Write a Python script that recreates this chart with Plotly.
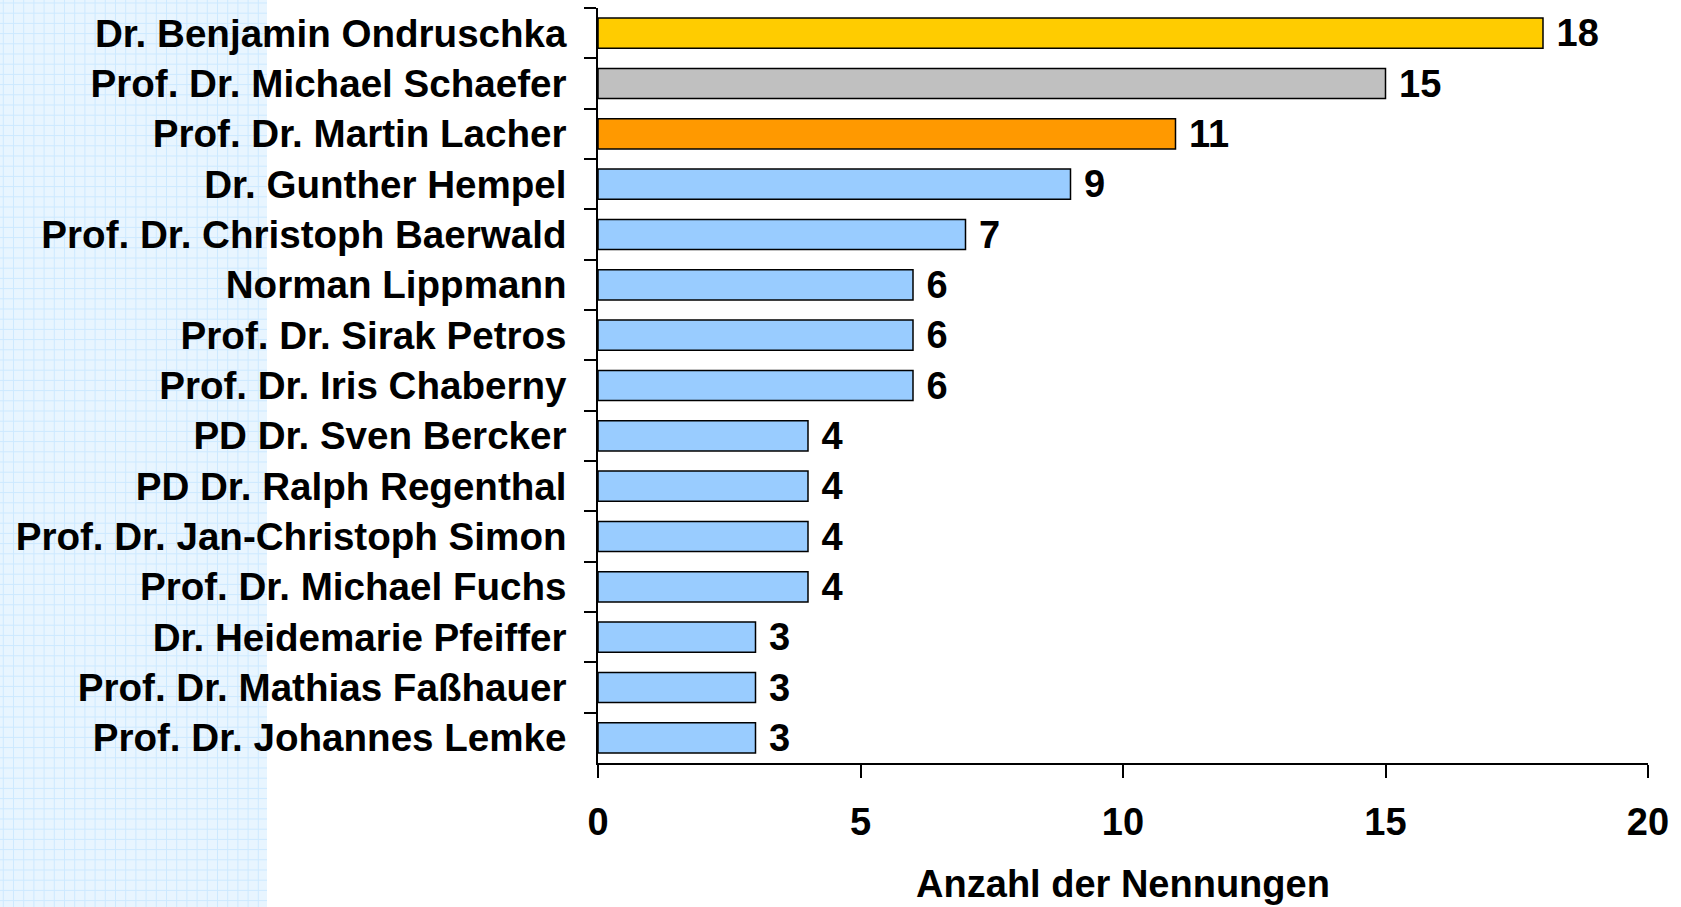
import plotly.graph_objects as go

names = [
    "Dr. Benjamin Ondruschka",
    "Prof. Dr. Michael Schaefer",
    "Prof. Dr. Martin Lacher",
    "Dr. Gunther Hempel",
    "Prof. Dr. Christoph Baerwald",
    "Norman Lippmann",
    "Prof. Dr. Sirak Petros",
    "Prof. Dr. Iris Chaberny",
    "PD Dr. Sven Bercker",
    "PD Dr. Ralph Regenthal",
    "Prof. Dr. Jan-Christoph Simon",
    "Prof. Dr. Michael Fuchs",
    "Dr. Heidemarie Pfeiffer",
    "Prof. Dr. Mathias Faßhauer",
    "Prof. Dr. Johannes Lemke",
]
counts = [18, 15, 11, 9, 7, 6, 6, 6, 4, 4, 4, 4, 3, 3, 3]
colors = ["#FFCC00", "#C0C0C0", "#FF9900"] + ["#99CCFF"] * 12
x_ticks = [0, 5, 10, 15, 20]

W, H = 1681, 907
L, R, T, B = 598, 33, 8, 144
pw = W - L - R
ph = H - T - B
FONT = "Liberation Sans, Arial, sans-serif"
FS = 38

fig = go.Figure(go.Bar(
    x=counts,
    y=names,
    orientation="h",
    width=0.6,
    marker=dict(color=colors, line=dict(color="black", width=1.5)),
    texttemplate="\u00a0<b>%{x}</b>",
    textposition="outside",
    constraintext="none",
    textfont=dict(family=FONT, size=FS, color="black"),
    cliponaxis=False,
))

# decorative light-blue grid panel on the left
def px2paper_x(px):
    return (px - L) / pw

def px2paper_y(py):
    return 1 - (py - T) / ph

shapes = [dict(type="rect", xref="paper", yref="paper",
               x0=px2paper_x(0), x1=px2paper_x(267),
               y0=px2paper_y(H), y1=px2paper_y(0),
               fillcolor="#E8F5FF", line=dict(width=0), layer="below")]
step = 10.2
v = 3.3
while v < 267:
    shapes.append(dict(type="line", xref="paper", yref="paper",
                       x0=px2paper_x(v), x1=px2paper_x(v),
                       y0=px2paper_y(H), y1=px2paper_y(0),
                       line=dict(color="#CDE9FF", width=1), layer="below"))
    v += step
h = 3.0
while h < H:
    shapes.append(dict(type="line", xref="paper", yref="paper",
                       x0=px2paper_x(0), x1=px2paper_x(267),
                       y0=px2paper_y(h), y1=px2paper_y(h),
                       line=dict(color="#CDE9FF", width=1), layer="below"))
    h += step

fig.update_layout(
    width=W, height=H,
    margin=dict(l=L, r=R, t=T, b=B),
    paper_bgcolor="white",
    plot_bgcolor="white",
    showlegend=False,
    font=dict(family=FONT, size=FS, color="black"),
    shapes=shapes,
    xaxis=dict(
        range=[0, 20],
        tickvals=x_ticks,
        ticktext=[f"<b>{t}</b>" for t in x_ticks],
        showgrid=False,
        zeroline=False,
        showline=True,
        linecolor="black",
        linewidth=1.5,
        ticks="outside",
        ticklen=13,
        tickwidth=1.5,
        tickcolor="black",
        tickfont=dict(family=FONT, size=FS, color="black"),
        ticklabelstandoff=12,
        title=dict(text="<b>Anzahl der Nennungen</b>",
                   font=dict(family=FONT, size=FS, color="black"),
                   standoff=28),
        fixedrange=True,
    ),
    yaxis=dict(
        categoryorder="array",
        categoryarray=names,
        autorange="reversed",
        showgrid=False,
        showline=True,
        linecolor="black",
        linewidth=1.5,
        ticks="outside",
        tickson="boundaries",
        ticklen=12,
        tickwidth=1.5,
        tickcolor="black",
        tickfont=dict(family=FONT, size=38.6, color="black"),
        tickprefix="<b>", ticksuffix="</b>",
        ticklabelstandoff=22,
        fixedrange=True,
    ),
)

fig.write_html("out.html", config={"displayModeBar": False},
               post_script="document.body.style.margin='0px';")
